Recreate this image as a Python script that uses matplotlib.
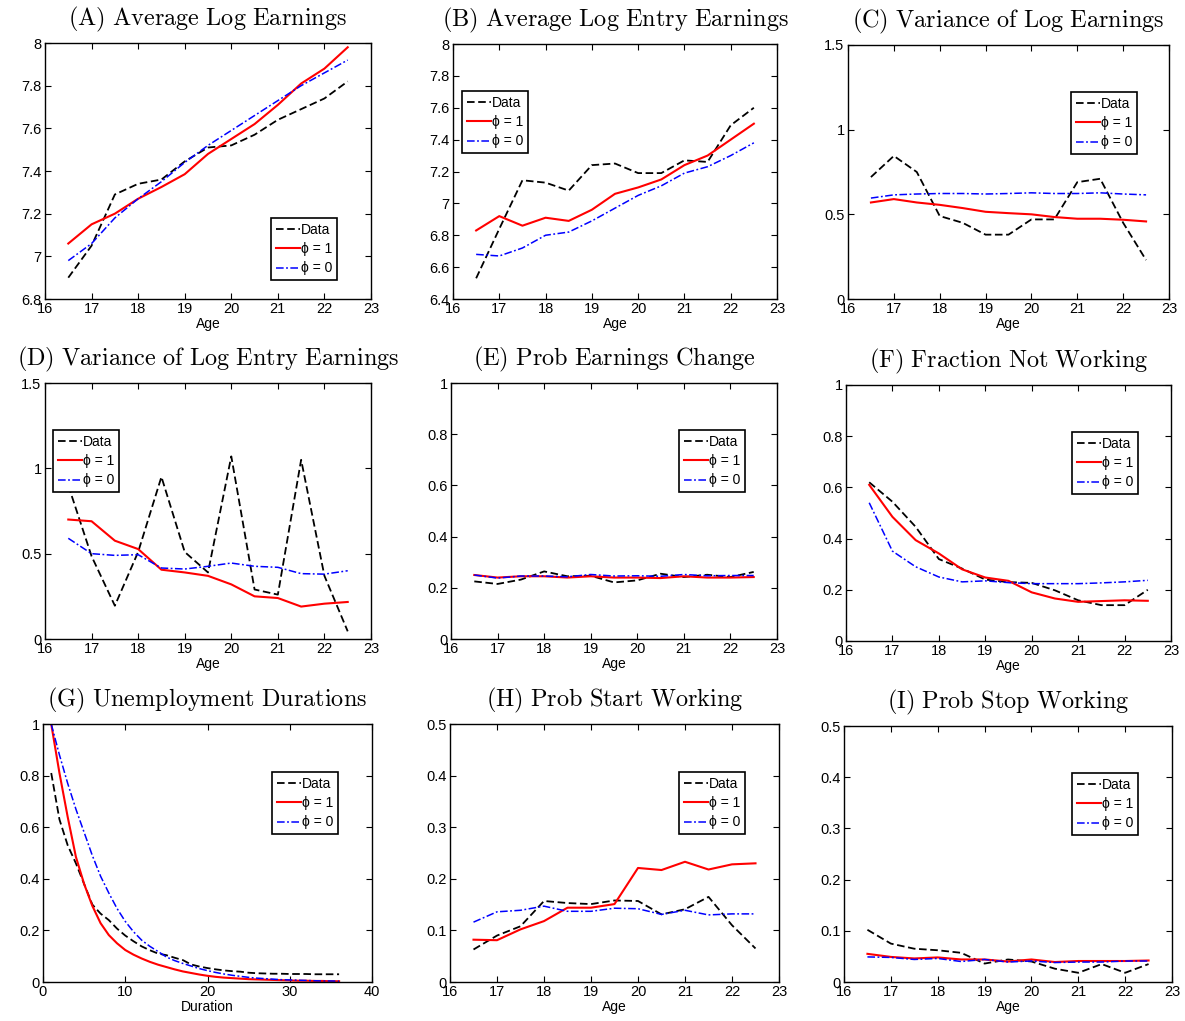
import numpy as np
import matplotlib
matplotlib.use("Agg")
import matplotlib.pyplot as plt
from matplotlib.ticker import FuncFormatter

plt.rcParams['font.family'] = ['Liberation Sans', 'DejaVu Sans']
plt.rcParams['mathtext.fontset'] = 'cm'

# ---------------------------------------------------------------- data
age = [16.5, 17, 17.5, 18, 18.5, 19, 19.5, 20, 20.5, 21, 21.5, 22, 22.5]
duration = list(range(1, 37))

# (A) average log earnings
a_data = [6.90, 7.05, 7.29, 7.34, 7.36, 7.445, 7.51, 7.52, 7.57, 7.64, 7.69, 7.74, 7.82]
a_phi1 = [7.06, 7.15, 7.20, 7.27, 7.325, 7.385, 7.48, 7.55, 7.62, 7.71, 7.81, 7.88, 7.98]
a_phi0 = [6.98, 7.06, 7.18, 7.27, 7.35, 7.44, 7.52, 7.59, 7.66, 7.73, 7.80, 7.86, 7.92]

# (B) average log entry earnings
b_data = [6.53, 6.84, 7.145, 7.13, 7.08, 7.24, 7.25, 7.19, 7.19, 7.27, 7.26, 7.49, 7.60]
b_phi1 = [6.83, 6.92, 6.86, 6.91, 6.89, 6.96, 7.06, 7.10, 7.15, 7.24, 7.30, 7.40, 7.50]
b_phi0 = [6.68, 6.67, 6.72, 6.80, 6.82, 6.89, 6.97, 7.05, 7.11, 7.19, 7.23, 7.30, 7.38]

# (C) variance of log earnings
c_data = [0.72, 0.845, 0.75, 0.49, 0.45, 0.38, 0.38, 0.47, 0.47, 0.69, 0.71, 0.45, 0.23]
c_phi1 = [0.57, 0.59, 0.57, 0.556, 0.537, 0.515, 0.507, 0.50, 0.484, 0.474, 0.474, 0.468, 0.458]
c_phi0 = [0.596, 0.615, 0.62, 0.623, 0.623, 0.62, 0.623, 0.627, 0.623, 0.623, 0.627, 0.62, 0.615]

# (D) variance of log entry earnings
d_data = [0.90, 0.485, 0.195, 0.51, 0.95, 0.51, 0.39, 1.07, 0.29, 0.26, 1.05, 0.37, 0.045]
d_phi1 = [0.70, 0.69, 0.576, 0.527, 0.406, 0.39, 0.37, 0.32, 0.25, 0.24, 0.19, 0.207, 0.217]
d_phi0 = [0.59, 0.50, 0.49, 0.494, 0.416, 0.41, 0.426, 0.445, 0.426, 0.42, 0.383, 0.38, 0.40]

# (E) probability of an earnings change
e_data = [0.225, 0.215, 0.232, 0.264, 0.245, 0.247, 0.221, 0.229, 0.255, 0.242, 0.251, 0.242, 0.262]
e_phi1 = [0.25, 0.24, 0.245, 0.245, 0.24, 0.245, 0.24, 0.24, 0.238, 0.245, 0.24, 0.24, 0.242]
e_phi0 = [0.25, 0.238, 0.246, 0.246, 0.243, 0.252, 0.246, 0.247, 0.245, 0.252, 0.247, 0.248, 0.248]

# (F) fraction not working
f_data = [0.62, 0.544, 0.446, 0.32, 0.283, 0.24, 0.23, 0.227, 0.198, 0.159, 0.14, 0.14, 0.20]
f_phi1 = [0.61, 0.485, 0.394, 0.342, 0.28, 0.248, 0.235, 0.19, 0.166, 0.153, 0.156, 0.159, 0.157]
f_phi0 = [0.54, 0.351, 0.29, 0.25, 0.231, 0.235, 0.228, 0.224, 0.224, 0.224, 0.227, 0.231, 0.237]

# (G) unemployment duration survivor curves
g_data = [0.81, 0.63, 0.53, 0.46, 0.38, 0.30, 0.265, 0.24, 0.207, 0.18, 0.158, 0.138,
          0.123, 0.11, 0.104, 0.094, 0.085, 0.068, 0.060, 0.054, 0.049, 0.045, 0.042,
          0.040, 0.036, 0.034, 0.033, 0.032, 0.032, 0.031, 0.031, 0.031, 0.030, 0.030,
          0.030, 0.030]
g_phi1 = [1.00, 0.81, 0.64, 0.485, 0.38, 0.295, 0.228, 0.182, 0.150, 0.124, 0.106, 0.091,
          0.078, 0.067, 0.058, 0.049, 0.041, 0.035, 0.029, 0.024, 0.020, 0.017, 0.015,
          0.013, 0.011, 0.010, 0.009, 0.008, 0.007, 0.006, 0.005, 0.005, 0.004, 0.004,
          0.003, 0.003]
g_phi0 = [1.00, 0.88, 0.77, 0.67, 0.58, 0.49, 0.41, 0.345, 0.285, 0.235, 0.195, 0.162,
          0.138, 0.118, 0.097, 0.083, 0.072, 0.062, 0.052, 0.044, 0.037, 0.031, 0.026,
          0.022, 0.018, 0.015, 0.013, 0.011, 0.009, 0.008, 0.007, 0.006, 0.005, 0.004,
          0.004, 0.003]

# (H) probability of starting work
h_data = [0.063, 0.09, 0.108, 0.157, 0.153, 0.151, 0.158, 0.157, 0.131, 0.141, 0.165, 0.11, 0.065]
h_phi1 = [0.082, 0.081, 0.102, 0.118, 0.144, 0.144, 0.151, 0.221, 0.217, 0.233, 0.218, 0.228, 0.23]
h_phi0 = [0.116, 0.136, 0.139, 0.147, 0.137, 0.137, 0.143, 0.142, 0.131, 0.139, 0.13, 0.132, 0.132]

# (I) probability of stopping work
i_data = [0.102, 0.075, 0.065, 0.062, 0.057, 0.036, 0.044, 0.04, 0.026, 0.018, 0.035, 0.018, 0.035]
i_phi1 = [0.055, 0.049, 0.046, 0.048, 0.044, 0.044, 0.04, 0.044, 0.039, 0.041, 0.041, 0.041, 0.042]
i_phi0 = [0.049, 0.048, 0.044, 0.046, 0.04, 0.044, 0.039, 0.041, 0.038, 0.039, 0.039, 0.041, 0.041]

titles = ["(A) Average Log Earnings", "(B) Average Log Entry Earnings",
          "(C) Variance of Log Earnings", "(D) Variance of Log Entry Earnings",
          "(E) Prob Earnings Change", "(F) Fraction Not Working",
          "(G) Unemployment Durations", "(H) Prob Start Working",
          "(I) Prob Stop Working"]
series_labels = ["Data", "\u03d5 = 1", "\u03d5 = 0"]

# ---------------------------------------------------------------- layout
W, H = 1185, 1021
fig = plt.figure(figsize=(W / 100, H / 100), dpi=100)


def rect(l, r, t, b):
    return [l / W, 1 - b / H, (r - l) / W, (b - t) / H]


panels = [
    dict(box=(45, 371, 43, 299), x=age, ys=(a_data, a_phi1, a_phi0),
         xlim=(16, 23), ylim=(6.8, 8), yt=np.arange(6.8, 8.01, 0.2), leg=(271, 218)),
    dict(box=(453, 777, 44, 299), x=age, ys=(b_data, b_phi1, b_phi0),
         xlim=(16, 23), ylim=(6.4, 8), yt=np.arange(6.4, 8.01, 0.2), leg=(462, 91)),
    dict(box=(848, 1169, 45, 299), x=age, ys=(c_data, c_phi1, c_phi0),
         xlim=(16, 23), ylim=(0, 1.5), yt=np.arange(0, 1.51, 0.5), leg=(1071, 92)),
    dict(box=(45, 371, 383, 639), x=age, ys=(d_data, d_phi1, d_phi0),
         xlim=(16, 23), ylim=(0, 1.5), yt=np.arange(0, 1.51, 0.5), leg=(53, 430)),
    dict(box=(451, 777, 383, 639), x=age, ys=(e_data, e_phi1, e_phi0),
         xlim=(16, 23), ylim=(0, 1), yt=np.arange(0, 1.01, 0.2), leg=(679, 430)),
    dict(box=(846, 1171, 385, 641), x=age, ys=(f_data, f_phi1, f_phi0),
         xlim=(16, 23), ylim=(0, 1), yt=np.arange(0, 1.01, 0.2), leg=(1072, 432)),
    dict(box=(43, 372, 724, 982), x=duration, ys=(g_data, g_phi1, g_phi0),
         xlim=(0, 40), ylim=(0, 1), yt=np.arange(0, 1.01, 0.2), leg=(272, 772),
         xt=[0, 10, 20, 30, 40], xlabel="Duration"),
    dict(box=(450, 779, 724, 982), x=age, ys=(h_data, h_phi1, h_phi0),
         xlim=(16, 23), ylim=(0, 0.5), yt=np.arange(0, 0.51, 0.1), leg=(679, 772)),
    dict(box=(844, 1172, 726, 982), x=age, ys=(i_data, i_phi1, i_phi0),
         xlim=(16, 23), ylim=(0, 0.5), yt=np.arange(0, 0.51, 0.1), leg=(1072, 773)),
]

styles = [
    dict(color="black", lw=1.3, dashes=(4.2, 2.0)),
    dict(color="#ff0000", lw=1.5, linestyle="-"),
    dict(color="#0000ff", lw=1.1, dashes=(5, 1.6, 1.2, 1.6)),
]


def cm_title(s):
    return r"$\mathrm{" + s.replace(" ", r"\ ") + "}$"


gfmt = FuncFormatter(lambda v, p: f"{v:g}")

for p, title in zip(panels, titles):
    ax = fig.add_axes(rect(*p["box"]))
    handles = []
    for y, st, lab in zip(p["ys"], styles, series_labels):
        h, = ax.plot(p["x"], y, label=lab, **st)
        handles.append(h)
    ax.set_xlim(*p["xlim"])
    ax.set_ylim(*p["ylim"])
    ax.set_yticks(np.round(p["yt"], 2))
    ax.set_xticks(p.get("xt", range(16, 24)))
    ax.xaxis.set_major_formatter(gfmt)
    ax.yaxis.set_major_formatter(gfmt)
    ax.tick_params(direction="in", length=4.5, width=0.8, top=True, right=True,
                   labelsize=10.5, pad=2.5)
    for s in ax.spines.values():
        s.set_linewidth(1.0)
    ax.set_xlabel(p.get("xlabel", "Age"), fontsize=10, labelpad=0.5)
    ax.set_title(cm_title(title), fontsize=17.5, pad=13)

    lx, ly = p["leg"]
    leg = ax.legend(handles=handles, loc="upper left",
                    bbox_to_anchor=(lx / W, 1 - ly / H),
                    bbox_transform=fig.transFigure, borderaxespad=0,
                    frameon=True, fancybox=False, fontsize=10,
                    handlelength=1.75, handletextpad=0.05, labelspacing=0.38,
                    borderpad=0.35, framealpha=1)
    leg.get_frame().set_edgecolor("black")
    leg.get_frame().set_linewidth(1.2)

fig.savefig("out.png", dpi=100)
